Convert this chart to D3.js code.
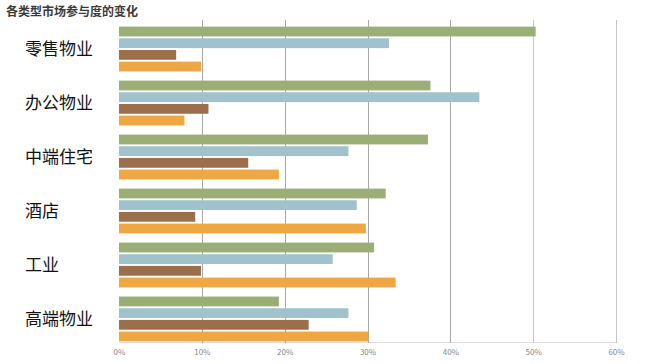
<!DOCTYPE html>
<html>
<head>
<meta charset="utf-8">
<script src="https://cdn.jsdelivr.net/npm/d3@7"></script>
<style>
  body { margin: 0; background: #fff; }
  text { font-family: "Noto Sans CJK SC", "Noto Sans", sans-serif; }
</style>
</head>
<body>
<div id="chart"></div>
<script>
// data
var categories = ["零售物业", "办公物业", "中端住宅", "酒店", "工业", "高端物业"];
var seriesA = [50.3, 37.6, 37.3, 32.2, 30.8, 19.3];   // green
var seriesB = [32.6, 43.5, 27.7, 28.7, 25.8, 27.7];   // blue
var seriesC = [6.9, 10.8, 15.6, 9.2, 9.9, 22.9];      // brown
var seriesD = [9.9, 7.9, 19.3, 29.8, 33.4, 30.1];     // orange
var ticks = [0, 10, 20, 30, 40, 50, 60];
var colors = ["#9aae76", "#a0c2cc", "#9b6e4c", "#efa744"];

var width = 647, height = 364;
var svg = d3.select("#chart").append("svg")
    .attr("width", width)
    .attr("height", height);

var series = [seriesA, seriesB, seriesC, seriesD];

var x = d3.scaleLinear().domain([0, 60]).range([119, 616]);
var y0 = d3.scaleBand().domain(categories).range([25, 343]).paddingInner(0.17).paddingOuter(0.03);
var y1 = d3.scaleBand().domain(d3.range(4)).range([0, y0.bandwidth()]).paddingInner(0.16);

// title
svg.append("text")
    .attr("x", 6).attr("y", 16)
    .attr("font-size", "12px")
    .attr("font-weight", "bold")
    .attr("fill", "#3a3a3a")
    .text("各类型市场参与度的变化");

// bottom frame line
svg.append("line")
    .attr("x1", x(0)).attr("x2", x(60))
    .attr("y1", 342.5).attr("y2", 342.5)
    .attr("stroke", "#ddd");

// gridlines
svg.selectAll(".grid")
    .data(ticks.slice(1))
    .enter().append("line")
    .attr("class", "grid")
    .attr("x1", function(d){ return Math.round(x(d)) + 0.5; })
    .attr("x2", function(d){ return Math.round(x(d)) + 0.5; })
    .attr("y1", 20).attr("y2", 343)
    .attr("stroke", function(d){ return d >= 50 ? "#c4c4c4" : "#a8a8a8"; });

// bars
var groups = svg.selectAll(".grp")
    .data(categories)
    .enter().append("g")
    .attr("class", "grp")
    .attr("transform", function(d){ return "translate(0," + y0(d) + ")"; });

groups.selectAll("rect")
    .data(function(d, i){ return series.map(function(s, k){ return {k: k, v: s[i]}; }); })
    .enter().append("rect")
    .attr("x", x(0))
    .attr("y", function(d){ return y1(d.k); })
    .attr("width", function(d){ return x(d.v) - x(0); })
    .attr("height", y1.bandwidth())
    .attr("fill", function(d){ return colors[d.k]; });

// category labels
svg.selectAll(".cat")
    .data(categories)
    .enter().append("text")
    .attr("class", "cat")
    .attr("x", 25)
    .attr("y", function(d){ return y0(d) + y0.bandwidth() / 2; })
    .attr("dy", "0.35em")
    .attr("font-size", "17px")
    .attr("fill", "#111")
    .text(function(d){ return d; });

// x axis labels
var xAxis = d3.axisBottom(x)
    .tickValues(ticks)
    .tickSize(0)
    .tickPadding(6)
    .tickFormat(function(d){ return d + "%"; });

var ax = svg.append("g")
    .attr("transform", "translate(0,343)")
    .call(xAxis);
ax.select(".domain").remove();
ax.selectAll("text")
    .attr("font-size", "8px")
    .attr("fill", "#888");
</script>
</body>
</html>
